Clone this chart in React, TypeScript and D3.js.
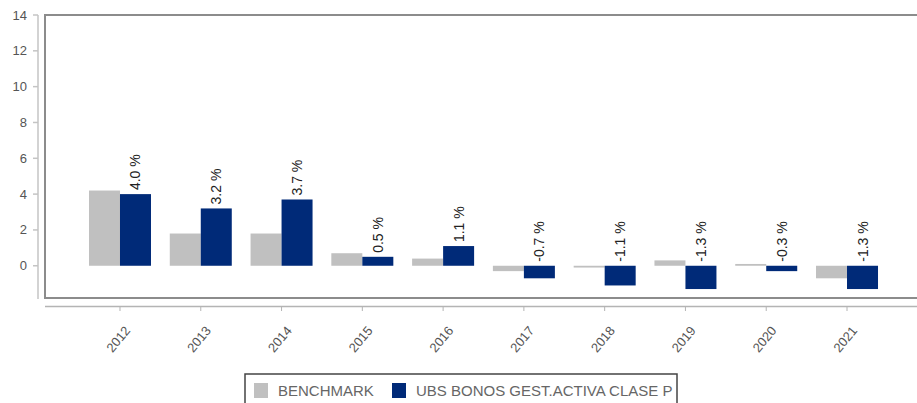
import React from "react";
import * as d3 from "d3";

const years = ["2012", "2013", "2014", "2015", "2016", "2017", "2018", "2019", "2020", "2021"];
const benchmark = [4.2, 1.8, 1.8, 0.7, 0.4, -0.3, -0.1, 0.3, 0.1, -0.7];
const fund = [4.0, 3.2, 3.7, 0.5, 1.1, -0.7, -1.1, -1.3, -0.3, -1.3];
const yTicks = [0, 2, 4, 6, 8, 10, 12, 14];
const seriesNames = ["BENCHMARK", "UBS BONOS GEST.ACTIVA CLASE P"];
const seriesColors = ["#c0c0c0", "#002a78"];

const W = 917;
const H = 403;
const font = "'Liberation Sans', Arial, Helvetica, sans-serif";

export default function App() {
  const box = { left: 45, top: 15, right: 925, bottom: 298 };
  const y = d3.scaleLinear().domain([-1.8, 14]).range([box.bottom, box.top]);
  const x = d3.scaleBand<string>().domain(years).range([79.6, 887.4]).paddingInner(0).paddingOuter(0);
  const step = x.bandwidth();
  const barW = 31;
  const inner = d3.scaleBand<number>().domain([0, 1]).range([step / 2 - barW, step / 2 + barW]).padding(0);
  const series = [benchmark, fund];

  return (
    <svg width={W} height={H} style={{ position: "absolute", left: 0, top: 0, background: "#fff" }} fontFamily={font}>
      {/* plot box */}
      <rect x={box.left} y={box.top} width={box.right - box.left} height={box.bottom - box.top} fill="none" stroke="#8c8c8c" strokeWidth={2} />
      {/* y axis */}
      <line x1={38} x2={38} y1={box.top} y2={box.bottom + 1} stroke="#c4c4c4" strokeWidth={1.5} />
      {yTicks.map((t) => (
        <g key={t}>
          <line x1={33} x2={38} y1={y(t)} y2={y(t)} stroke="#c4c4c4" strokeWidth={1.5} />
          <text x={27} y={y(t)} dy="0.35em" textAnchor="end" fontSize={13} fill="#555">{t}</text>
        </g>
      ))}
      {/* x axis */}
      <line x1={box.left} x2={W} y1={306.5} y2={306.5} stroke="#b4b4b4" strokeWidth={1.5} />
      {years.map((yr) => {
        const cx = (x(yr) as number) + step / 2;
        return (
          <g key={yr}>
            <line x1={cx} x2={cx} y1={306.5} y2={311} stroke="#b4b4b4" strokeWidth={1} />
            <text transform={`translate(${cx + 11},${331}) rotate(-50)`} textAnchor="end" fontSize={13} fill="#555">{yr}</text>
          </g>
        );
      })}
      {/* bars */}
      {series.map((vals, si) =>
        vals.map((v, i) => {
          const bx = (x(years[i]) as number) + (inner(si) as number);
          const top = y(Math.max(0, v));
          const bot = y(Math.min(0, v));
          return <rect key={`${si}-${i}`} x={bx} y={top} width={inner.bandwidth()} height={Math.max(bot - top, 1)} fill={seriesColors[si]} />;
        })
      )}
      {/* value labels */}
      {fund.map((v, i) => {
        const cx = (x(years[i]) as number) + (inner(1) as number) + inner.bandwidth() / 2;
        const ty = y(Math.max(0, v)) - 4;
        return (
          <text key={i} transform={`translate(${cx + 5},${ty}) rotate(-90)`} textAnchor="start" fontSize={14} fill="#222">
            {`${v.toFixed(1)} %`}
          </text>
        );
      })}
      {/* legend */}
      <rect x={245} y={374} width={432} height={40} fill="#fff" stroke="#444" strokeWidth={1.5} />
      {seriesNames.map((n, i) => {
        const lx = [254, 392][i];
        return (
          <g key={n}>
            <rect x={lx} y={383} width={14} height={15} fill={seriesColors[i]} />
            <text x={lx + 24} y={396} fontSize={15} fill="#666">{n}</text>
          </g>
        );
      })}
    </svg>
  );
}
